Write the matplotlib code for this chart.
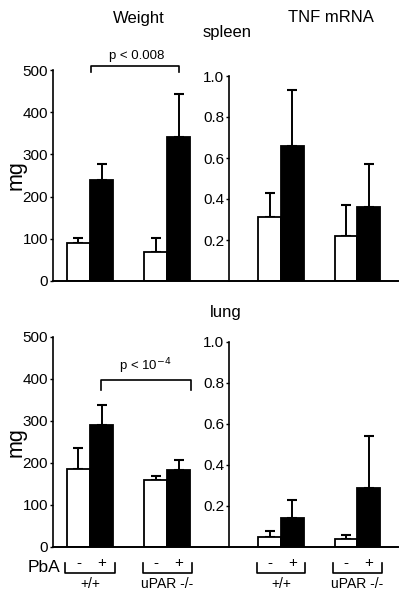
import numpy as np
import matplotlib
matplotlib.use('Agg')
import matplotlib.pyplot as plt
from matplotlib.transforms import blended_transform_factory

plt.rcParams['font.family'] = ['Liberation Sans', 'DejaVu Sans']

# data (mean, upper error bar end)
groups = ['+/+', 'uPAR -/-']
spleen_wt_minus = [90, 69]
spleen_wt_minus_err = [102, 102]
spleen_wt_plus = [239, 341]
spleen_wt_plus_err = [277, 443]
spleen_tnf_minus = [0.31, 0.22]
spleen_tnf_minus_err = [0.43, 0.37]
spleen_tnf_plus = [0.66, 0.36]
spleen_tnf_plus_err = [0.93, 0.57]

lung_wt_minus = [186, 160]
lung_wt_minus_err = [236, 169]
lung_wt_plus = [291, 184]
lung_wt_plus_err = [338, 207]
lung_tnf_minus = [0.05, 0.04]
lung_tnf_minus_err = [0.08, 0.06]
lung_tnf_plus = [0.14, 0.29]
lung_tnf_plus_err = [0.23, 0.54]

W, H = 410, 598
fig = plt.figure(figsize=(W / 100, H / 100), dpi=100)

def axes_px(x0, x1, ytop, ybot):
    return fig.add_axes([x0 / W, 1 - ybot / H, (x1 - x0) / W, (ybot - ytop) / H])

w = 0.3
x = np.arange(len(groups))

def bars(ax, minus, minus_err, plus, plus_err):
    for vals, errs, col, off in [(minus, minus_err, 'white', -w / 2), (plus, plus_err, 'black', w / 2)]:
        vals = np.array(vals)
        up = np.array(errs) - vals
        ax.bar(x + off, vals, w, color=col, edgecolor='black', linewidth=1.3, zorder=2)
        ax.errorbar(x + off, vals, yerr=[np.zeros_like(up), up], fmt='none',
                    ecolor='black', elinewidth=1.4, capsize=3.5, capthick=1.5, zorder=1)

def style(ax, ymax, ticks, labels, xlim):
    ax.set_xlim(*xlim)
    ax.set_ylim(0, ymax)
    for s in ['top', 'right']:
        ax.spines[s].set_visible(False)
    ax.spines['left'].set_linewidth(1.2)
    ax.spines['bottom'].set_linewidth(1.4)
    ax.set_xticks([])
    ax.set_yticks(ticks)
    ax.set_yticklabels(labels)
    ax.tick_params(axis='y', direction='out', length=2, width=1, labelsize=11, pad=1.5)

left_xlim = (-0.48, 1.8)
right_xlim = (-0.68, 1.53)

# spleen
ax1 = axes_px(53, 229, 70, 281)
bars(ax1, spleen_wt_minus, spleen_wt_minus_err, spleen_wt_plus, spleen_wt_plus_err)
style(ax1, 500, [0, 100, 200, 300, 400, 500], ['0', '100', '200', '300', '400', '500'], left_xlim)
ax1.set_ylabel('mg', fontsize=15.5)
ax1.yaxis.set_label_coords(-0.153, 0.5)

ax2 = axes_px(229, 398, 76, 281)
bars(ax2, spleen_tnf_minus, spleen_tnf_minus_err, spleen_tnf_plus, spleen_tnf_plus_err)
style(ax2, 1.0, [0.2, 0.4, 0.6, 0.8, 1.0], ['0.2', '0.4', '0.6', '0.8', '1.0'], right_xlim)

# lung
ax3 = axes_px(53, 229, 337, 547)
bars(ax3, lung_wt_minus, lung_wt_minus_err, lung_wt_plus, lung_wt_plus_err)
style(ax3, 500, [0, 100, 200, 300, 400, 500], ['0', '100', '200', '300', '400', '500'], left_xlim)
ax3.set_ylabel('mg', fontsize=15.5)
ax3.yaxis.set_label_coords(-0.153, 0.5)

ax4 = axes_px(229, 398, 342, 547)
bars(ax4, lung_tnf_minus, lung_tnf_minus_err, lung_tnf_plus, lung_tnf_plus_err)
style(ax4, 1.0, [0.2, 0.4, 0.6, 0.8, 1.0], ['0.2', '0.4', '0.6', '0.8', '1.0'], right_xlim)

# significance brackets
ax1.plot([0.01, 0.01, 1.15, 1.15], [495, 509, 509, 495], color='black', lw=1.2, clip_on=False)
ax1.text(0.6, 520, 'p < 0.008', ha='center', va='bottom', fontsize=9.5)
ax3.plot([0.14, 0.14, 1.31, 1.31], [374, 398, 398, 374], color='black', lw=1.2, clip_on=False)
ax3.text(0.72, 408, 'p < 10$^{-4}$', ha='center', va='bottom', fontsize=9.5)

# titles
fig.text(139 / W, 1 - 18 / H, 'Weight', ha='center', va='center', fontsize=12)
fig.text(331 / W, 1 - 18 / H, 'TNF mRNA', ha='center', va='center', fontsize=12)
fig.text(227 / W, 1 - 33 / H, 'spleen', ha='center', va='center', fontsize=12)
fig.text(226 / W, 1 - 313 / H, 'lung', ha='center', va='center', fontsize=12)

# PbA / genotype labels under the lung panels
fig.text(44 / W, 1 - 567 / H, 'PbA', ha='center', va='center', fontsize=12.5)
for ax in [ax3, ax4]:
    tr = blended_transform_factory(ax.transData, fig.transFigure)
    for i, g in enumerate(groups):
        x0, x1 = i - w - 0.02, i + w + 0.02
        ax.plot([x0, x0, x1, x1], [1 - 563 / H, 1 - 573 / H, 1 - 573 / H, 1 - 563 / H],
                color='black', lw=1.2, transform=tr, clip_on=False)
        ax.text(i - w / 2, 1 - 563 / H, '-', ha='center', va='center', fontsize=11, transform=tr)
        ax.text(i + w / 2, 1 - 563 / H, '+', ha='center', va='center', fontsize=11, transform=tr)
        ax.text(i, 1 - 584 / H, g, ha='center', va='center', fontsize=10, transform=tr)

fig.savefig('out.png', dpi=100)
